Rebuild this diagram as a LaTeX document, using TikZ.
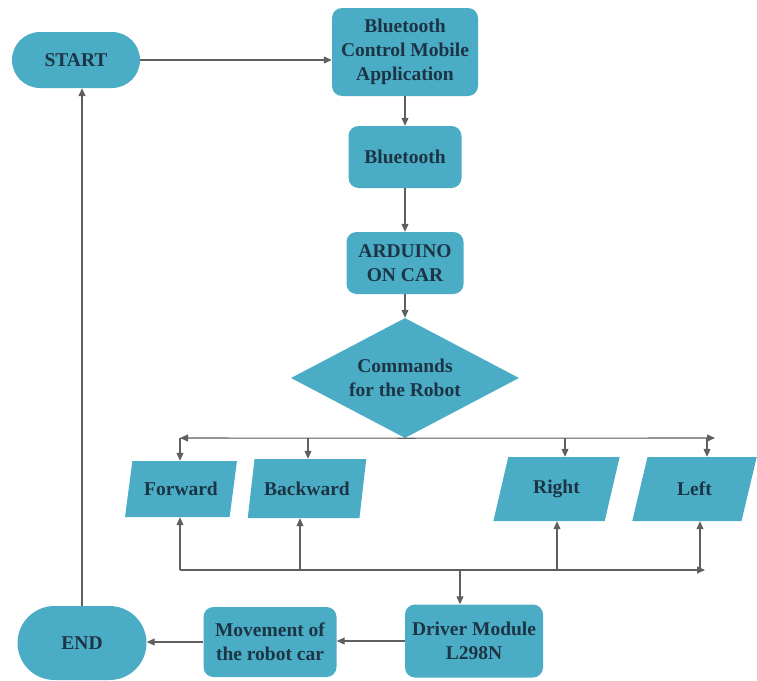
\documentclass[tikz,border=0pt]{standalone}
\usepackage{fontspec}
\setmainfont{Liberation Serif}[BoldFont={Liberation Serif Bold}]
\usetikzlibrary{arrows.meta,shapes.geometric,shapes.misc}
\definecolor{boxfill}{HTML}{4BACC6}
\definecolor{boxtext}{HTML}{1C3545}
\definecolor{linegray}{HTML}{5F5F5F}
\begin{document}
\begin{tikzpicture}[x=1pt,y=1pt,
  every node/.style={font=\fontsize{19.5}{24}\selectfont\bfseries, text=boxtext, align=center, inner sep=0pt},
  term/.style={fill=boxfill, rounded rectangle},
  proc/.style={fill=boxfill, rounded corners=10pt, rectangle},
  dec/.style={fill=boxfill, diamond, shape aspect=1.9},
  io/.style={fill=boxfill, trapezium, trapezium left angle=68, trapezium right angle=112, trapezium stretches},
  conn/.style={draw=linegray, line width=1.1pt, -{Triangle[length=8pt,width=7pt]}, fill=linegray}
]
\useasboundingbox (0,0) rectangle (757,-680);
\node[term, minimum width=128pt, minimum height=56pt] (start) at (76,-60) {START};
\node[proc, minimum width=146pt, minimum height=88pt] (app) at (405,-52) {Bluetooth\\Control Mobile\\Application};
\node[proc, minimum width=113pt, minimum height=62pt] (bt) at (405,-157) {Bluetooth};
\node[proc, minimum width=117pt, minimum height=62pt] (ard) at (405,-263) {ARDUINO\\ON CAR};
\node[dec, minimum width=228pt, minimum height=120pt] (dia) at (405,-378) {Commands\\for the Robot};
\node[io, minimum width=112pt, minimum height=56pt] (fwd) at (181,-489) {Forward};
\node[io, minimum width=119pt, minimum height=59pt] (bwd) at (307,-488.5) {Backward};
\node[io, minimum width=127pt, minimum height=64pt] (rgt) at (556.5,-489) {Right};
\node[io, minimum width=125pt, minimum height=64pt] (lft) at (694.5,-489) {Left};
\node[proc, minimum width=138pt, minimum height=73pt] (drv) at (474,-641) {Driver Module\\L298N};
\node[proc, minimum width=133pt, minimum height=70pt] (mov) at (270,-642) {Movement of\\the robot car};
\node[term, minimum width=129pt, minimum height=74pt] (end) at (82,-643) {END};

% top flow
\draw[conn] (start.east) -- (start.east -| app.west);
\draw[conn] (app.south) -- (bt.north);
\draw[conn] (bt.south) -- (ard.north);
\draw[conn] (ard.south) -- (dia.north);

% top bus
\coordinate (busL) at (180,-438);
\coordinate (busR) at (715,-438);
\coordinate (tB) at (308,-438);
\coordinate (tR) at (565,-438);
\coordinate (tL) at (707,-438);
\draw[conn] (dia.south) -- (busL);
\draw[conn] (dia.south) -- (busR);
\draw[conn] (busL) -- (busL |- fwd.north);
\draw[conn] (tB) -- (tB |- bwd.north);
\draw[conn] (tR) -- (tR |- rgt.north);
\draw[conn] (tL) -- (tL |- lft.north);

% bottom bus
\coordinate (bL) at (180,-570);
\coordinate (bR) at (705,-570);
\coordinate (bB) at (300,-570);
\coordinate (bRt) at (557,-570);
\coordinate (bLf) at (700,-570);
\coordinate (bD) at (460,-570);
\draw[conn] (bL) -- (bR);
\draw[conn] (bL) -- (bL |- fwd.south);
\draw[conn] (bB) -- (bB |- bwd.south);
\draw[conn] (bRt) -- (bRt |- rgt.south);
\draw[conn] (bLf) -- (bLf |- lft.south);
\draw[conn] (bD) -- (bD |- drv.north);

% bottom flow
\draw[conn] (drv.west) -- (drv.west -| mov.east);
\draw[conn] (mov.west) -- (mov.west -| end.east);
\draw[conn] (end.north) -- (end.north |- start.south);
\end{tikzpicture}
\end{document}
